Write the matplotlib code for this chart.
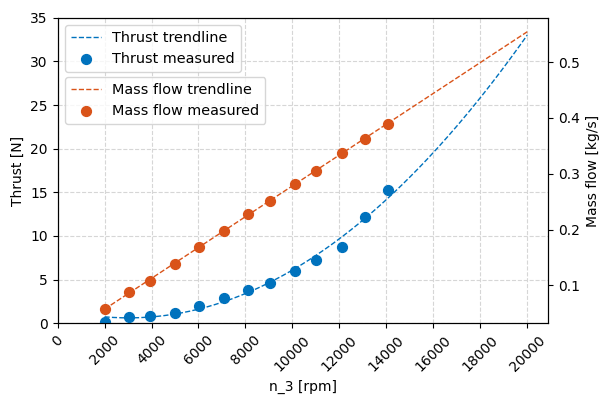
import numpy as np
import matplotlib
matplotlib.use("Agg")
import matplotlib.pyplot as plt

rpm = [2000, 3050, 3930, 5000, 6020, 7080, 8100, 9040, 10100, 11000, 12090, 13100, 14070]
thrust = [0.15, 0.73, 0.84, 1.22, 1.99, 2.91, 3.79, 4.59, 5.97, 7.27, 8.76, 12.12, 15.26]
mass_flow = [0.057, 0.088, 0.108, 0.139, 0.169, 0.198, 0.227, 0.252, 0.282, 0.305, 0.337, 0.363, 0.390]

trend_start, trend_end = 2000, 20000

blue = "#0072BD"
orange = "#D95319"

fig, ax1 = plt.subplots(figsize=(6.0, 3.97), dpi=100)
fig.subplots_adjust(left=0.096, right=0.914, top=0.955, bottom=0.186)
ax2 = ax1.twinx()

xt = np.linspace(trend_start, trend_end, 200)
pt = np.polyfit(rpm, thrust, 2)
pm = np.polyfit(rpm, mass_flow, 1)

ax1.plot(xt, np.polyval(pt, xt), "--", color=blue, lw=1.0, label="Thrust trendline")
ax1.scatter(rpm, thrust, color=blue, s=50, zorder=3, label="Thrust measured")
ax2.plot(xt, np.polyval(pm, xt), "--", color=orange, lw=1.0, label="Mass flow trendline")
ax2.scatter(rpm, mass_flow, color=orange, s=50, zorder=3, label="Mass flow measured")

ax1.set_ylim(0, 35)
ax1.set_xlim(0, 20900)
ax1.set_xticks(np.arange(0, 20001, 2000))
plt.setp(ax1.get_xticklabels(), rotation=45)
ax1.grid(True, linestyle="--", color="#d6d6d6", linewidth=0.8)
ax1.set_axisbelow(True)

ax1.set_xlabel("n_3 [rpm]")
ax1.set_ylabel("Thrust [N]")
ax2.set_ylabel("Mass flow [kg/s]")

ax1.legend(loc="upper left", fontsize=10.4, handlelength=2.1)
ax2.legend(loc="upper left", bbox_to_anchor=(0, 0.83), fontsize=10.4, handlelength=2.1)

fig.savefig("out.png", dpi=100)
